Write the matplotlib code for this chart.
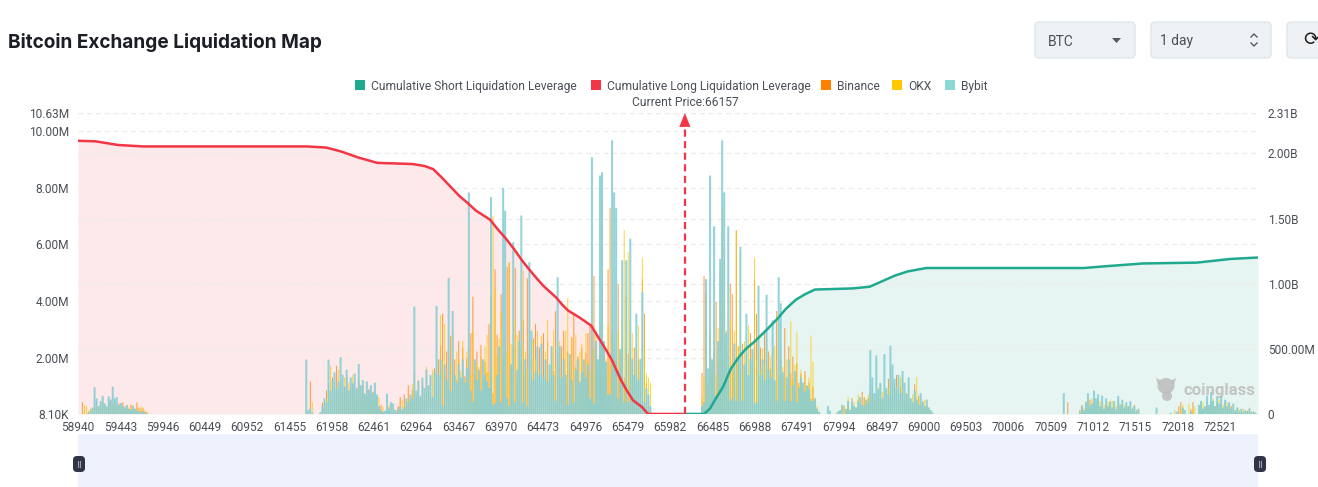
# liquidation_map.py
import numpy as np
import matplotlib
matplotlib.use('Agg')
from matplotlib import pyplot as plt
from matplotlib.patches import FancyBboxPatch, Rectangle, Ellipse, Polygon

# price labels on the category axis
tick_prices = [58940, 59443, 59946, 60449, 60952, 61455, 61958, 62461, 62964, 63467,
               63970, 64473, 64976, 65479, 65982, 66485, 66988, 67491, 67994, 68497,
               69000, 69503, 70006, 70509, 71012, 71515, 72018, 72521]
price_min = 58940
price_max = 72973
current_price = 66157

# cumulative curves, millions on the left axis
long_prices = [58940, 59148, 59421, 59718, 61667, 61893, 62071, 62273, 62499, 62915,
               63060, 63164, 63271, 63373, 63473, 63575, 63675, 63760, 63842, 63925,
               64020, 64120, 64222, 64350, 64471, 64626, 64700, 64768, 64900, 65042,
               65100, 65172, 65230, 65291, 65398, 65470, 65541, 65648, 65719, 66157]
long_values = [9.65, 9.63, 9.50, 9.45, 9.45, 9.41, 9.27, 9.06, 8.87, 8.83,
               8.76, 8.65, 8.34, 8.02, 7.71, 7.45, 7.18, 7.02, 6.86, 6.55,
               6.23, 5.85, 5.42, 4.95, 4.54, 4.12, 3.86, 3.66, 3.42, 3.13,
               2.85, 2.50, 2.22, 1.90, 1.20, 0.82, 0.49, 0.25, 0.01, 0.01]
short_prices = [66157, 66385, 66456, 66530, 66610, 66705, 66800, 66883, 66978, 67120,
                67258, 67359, 67477, 67590, 67703, 68154, 68356, 68653, 68808, 69029,
                70900, 71150, 71602, 72244, 72648, 72973]
short_values = [0.01, 0.01, 0.20, 0.58, 0.96, 1.61, 2.02, 2.31, 2.54, 2.95,
                3.37, 3.72, 4.04, 4.24, 4.40, 4.44, 4.50, 4.89, 5.04, 5.16,
                5.16, 5.22, 5.32, 5.35, 5.48, 5.53]

# bars are millions on the right axis, one price bucket every bar_step
bar_step = 24

start_a = 58993
binance_a = [90, 30, 0, 15, 40, 30, 60, 95, 50, 70,
             120, 60, 40, 90, 110, 70, 100, 60, 80, 45,
             90, 35, 60, 30, 70, 35, 40, 90, 50, 35,
             40, 25, 12]
okx_a = [20, 70, 60, 25, 35, 40, 50, 70, 45, 60,
         90, 75, 50, 100, 70, 60, 80, 50, 45, 70,
         40, 60, 30, 50, 40, 70, 30, 50, 25, 55,
         50, 20, 18]
bybit_a = [0, 0, 0, 15, 25, 50, 205, 120, 60, 100,
           140, 80, 60, 135, 110, 210, 120, 130, 70, 85,
           60, 50, 70, 40, 30, 60, 40, 30, 20, 15,
           20, 10, 5]

start_b = 61655
binance_b = [0, 0, 250, 0, 0, 0, 0, 0, 85, 40,
             180, 240, 90, 280, 130, 370, 110, 240, 160, 200,
             280, 120, 190, 230, 100, 200, 250, 140, 220, 160,
             130, 190, 90, 170, 110, 130, 50, 70, 20, 10,
             30, 50, 15, 0, 0, 20, 0]
okx_b = [30, 0, 0, 90, 0, 0, 0, 0, 40, 90,
         120, 100, 370, 240, 150, 210, 340, 160, 120, 280,
         150, 240, 100, 300, 170, 120, 290, 200, 140, 110,
         180, 100, 150, 90, 170, 80, 130, 30, 60, 0,
         0, 70, 10, 0, 30, 40, 0]
bybit_b = [418, 30, 40, 10, 0, 0, 0, 15, 60, 120,
           90, 418, 180, 260, 320, 200, 250, 436, 300, 210,
           340, 180, 280, 240, 310, 190, 385, 220, 260, 150,
           250, 180, 220, 160, 240, 150, 60, 30, 15, 25,
           155, 40, 90, 80, 30, 10, 0]

start_c = 62748
binance_c = [60, 130, 30, 150, 60, 220, 90, 180, 320, 140,
             260, 120, 230, 90, 310, 170, 280, 120, 350, 210,
             420, 520, 770, 300, 480, 180, 600, 330, 420, 260,
             560, 240, 510, 290, 430, 180, 620, 900, 310, 480,
             260, 530, 190, 400, 320, 690, 240, 160, 1110, 610,
             300, 920, 420, 220, 1130, 1165, 380, 520, 1120, 260,
             640, 380, 720, 300, 1040, 460, 240, 580, 690, 320,
             510, 280, 620, 420, 560, 240, 470, 330, 790, 400,
             280, 520, 640, 230, 480, 320, 590, 770, 360, 440,
             250, 510, 320, 470, 620, 680, 520, 1060, 420, 330,
             560, 1640, 480, 300, 1110, 1580, 620, 240, 410, 1000,
             350, 520, 280, 900, 460, 720, 300, 510, 240, 420,
             330, 1035, 770, 240, 120, 40]
okx_c = [30, 90, 110, 60, 40, 120, 70, 230, 150, 90,
         240, 130, 200, 150, 360, 220, 180, 340, 260, 420,
         300, 760, 410, 690, 260, 530, 380, 610, 220, 480,
         420, 330, 560, 270, 480, 520, 300, 640, 250, 390,
         360, 440, 280, 520, 610, 320, 900, 1520, 960, 440,
         580, 780, 330, 620, 470, 1165, 540, 300, 720, 610,
         400, 520, 1100, 480, 360, 720, 290, 560, 430, 640,
         340, 600, 260, 480, 720, 310, 520, 640, 380, 470,
         560, 300, 460, 640, 890, 420, 580, 350, 610, 300,
         480, 540, 280, 620, 410, 330, 760, 500, 640, 360,
         700, 950, 530, 420, 680, 380, 820, 560, 300, 640,
         480, 720, 1410, 560, 1240, 430, 620, 350, 520, 680,
         400, 1200, 520, 310, 280, 240]
bybit_c = [40, 60, 35, 50, 120, 90, 150, 120, 825, 180,
           250, 140, 280, 200, 340, 220, 300, 130, 320, 830,
           300, 420, 60, 380, 260, 1045, 180, 790, 300, 240,
           380, 280, 420, 240, 350, 1700, 180, 90, 420, 260,
           340, 180, 420, 300, 250, 200, 1665, 70, 80, 300,
           520, 90, 1735, 1560, 120, 60, 380, 1318, 90, 340,
           560, 1523, 90, 420, 60, 1165, 640, 260, 320, 520,
           300, 540, 280, 420, 250, 380, 520, 300, 100, 1050,
           520, 280, 420, 300, 70, 460, 260, 90, 340, 420,
           240, 320, 420, 280, 380, 120, 1970, 80, 560, 420,
           1830, 1855, 560, 400, 150, 150, 2100, 1700, 1580, 120,
           500, 1180, 90, 1180, 90, 1345, 420, 300, 770, 260,
           420, 935, 90, 200, 150, 60]

start_d = 66361
binance_d = [315, 1060, 930, 220, 640, 320, 480, 860, 400, 1110,
             1580, 420, 640, 300, 1000, 920, 310, 1410, 520, 380,
             540, 300, 460, 240, 620, 380, 1035, 770, 280, 510,
             340, 620, 260, 480, 350, 580, 240, 790, 300, 420,
             280, 660, 220, 520, 310, 440, 180, 390, 240, 310,
             200, 330, 150, 240, 120, 210, 100, 40, 15, 0]
okx_d = [120, 280, 640, 180, 520, 380, 720, 300, 660, 540,
         820, 1280, 560, 460, 720, 380, 640, 1410, 520, 1240,
         320, 560, 400, 680, 300, 480, 1200, 420, 600, 330,
         500, 380, 560, 270, 440, 340, 520, 300, 460, 240,
         360, 280, 420, 310, 710, 260, 380, 625, 220, 340,
         190, 300, 160, 280, 600, 400, 120, 60, 20, 0]
bybit_d = [60, 90, 1035, 350, 1830, 420, 1440, 110, 560, 1190,
           2100, 1700, 620, 1440, 100, 120, 540, 100, 420, 1285,
           100, 380, 770, 300, 420, 500, 80, 90, 985, 300,
           420, 260, 915, 340, 280, 720, 260, 100, 1050, 850,
           320, 100, 280, 420, 100, 220, 330, 90, 200, 280,
           240, 170, 220, 190, 100, 100, 120, 40, 15, 0]

start_e = 67834
binance_e = [0, 0, 0, 0, 0, 0, 0, 30, 0, 60,
             25, 70, 0, 120, 20, 40, 110, 60, 170, 130,
             60, 120, 170, 200, 90, 160, 120, 230, 100, 140,
             180, 270, 360, 150, 240, 300, 120, 210, 270, 100,
             160, 90, 120, 60, 230, 90, 140, 60, 100, 50,
             70, 30, 15, 5]
okx_e = [0, 0, 20, 0, 0, 10, 0, 0, 40, 70,
         0, 130, 40, 50, 90, 30, 150, 80, 60, 120,
         90, 150, 110, 60, 130, 70, 200, 90, 170, 110,
         140, 200, 160, 190, 100, 210, 150, 280, 130, 180,
         100, 220, 70, 150, 90, 280, 120, 80, 60, 110,
         40, 50, 20, 10]
bybit_e = [0, 60, 25, 0, 0, 0, 20, 30, 70, 0,
           40, 100, 30, 90, 60, 50, 90, 130, 70, 60,
           110, 90, 490, 280, 160, 450, 190, 240, 120, 460,
           200, 150, 525, 380, 270, 200, 300, 160, 330, 240,
           150, 280, 120, 90, 180, 110, 70, 160, 90, 60,
           110, 50, 30, 10]

start_f = 70663
binance_f = [0, 0, 90, 0, 0, 0, 0, 0, 30, 70,
             15, 50, 40, 110, 30, 90, 60, 110, 40, 60,
             25, 80, 40, 100, 30, 60, 20, 110, 30, 70,
             25, 60, 40, 80, 30, 70, 30, 20, 0, 0,
             0, 0, 0, 0, 0, 0, 0, 0, 0, 0,
             0, 0, 0, 0, 0, 0, 0, 60, 90, 20,
             0, 0, 0, 40, 90, 0, 0, 30, 70, 40,
             30, 80, 50, 100, 40, 60, 90, 40, 80, 30,
             100, 40, 70, 60, 30, 20, 40, 15, 25, 10,
             10, 25, 10, 15, 5, 3]
okx_f = [0, 0, 0, 0, 0, 0, 0, 0, 15, 40,
         50, 100, 30, 70, 120, 50, 90, 60, 100, 40,
         70, 40, 90, 60, 100, 30, 60, 40, 80, 50,
         70, 30, 60, 40, 50, 20, 30, 15, 0, 0,
         0, 0, 0, 0, 0, 0, 0, 0, 0, 0,
         0, 0, 0, 0, 0, 30, 0, 0, 40, 70,
         0, 0, 80, 0, 30, 60, 0, 60, 30, 90,
         50, 100, 40, 60, 120, 40, 70, 110, 40, 70,
         40, 90, 60, 30, 70, 20, 50, 35, 15, 40,
         30, 10, 50, 20, 8, 12]
bybit_f = [160, 0, 0, 0, 0, 0, 0, 0, 10, 60,
           30, 90, 160, 60, 80, 180, 120, 150, 60, 140,
           40, 120, 60, 90, 50, 100, 35, 140, 70, 110,
           50, 90, 60, 100, 40, 60, 20, 40, 0, 0,
           0, 0, 0, 0, 0, 0, 50, 0, 0, 0,
           0, 0, 0, 10, 0, 0, 20, 0, 0, 50,
           30, 0, 0, 20, 0, 0, 0, 70, 100, 40,
           60, 140, 70, 170, 100, 60, 130, 80, 140, 50,
           110, 60, 90, 40, 80, 30, 50, 20, 40, 15,
           30, 15, 40, 10, 20, 8]

clusters = [
    (start_a, binance_a, okx_a, bybit_a),
    (start_b, binance_b, okx_b, bybit_b),
    (start_c, binance_c, okx_c, bybit_c),
    (start_d, binance_d, okx_d, bybit_d),
    (start_e, binance_e, okx_e, bybit_e),
    (start_f, binance_f, okx_f, bybit_f),
]

left_ticks = [0.0081, 2, 4, 6, 8, 10, 10.63]
left_labels = ['8.10K', '2.00M', '4.00M', '6.00M', '8.00M', '10.00M', '10.63M']
right_ticks = [0, 500, 1000, 1500, 2000, 2310]
right_labels = ['0', '500.00M', '1.00B', '1.50B', '2.00B', '2.31B']

RED = '#f23645'
GREEN = '#1fa98f'
ORANGE = '#ff8000'
YELLOW = '#ffc800'
TEAL = '#88cfd4'
TEXT = '#4a4f57'
W, H = 1318, 487

plt.rcParams['font.family'] = ['Roboto', 'DejaVu Sans']
fig = plt.figure(figsize=(W / 100, H / 100), dpi=100)

# pixel box of the plot area
x0, x1, y_top, y_bot = 78, 1258, 113, 414
rect = [x0 / W, 1 - y_bot / H, (x1 - x0) / W, (y_bot - y_top) / H]

ax = fig.add_axes(rect)
ax.set_xlim(price_min, price_max)
ax.set_ylim(left_ticks[0], left_ticks[-1])
ax.fill_between(long_prices, long_values, left_ticks[0], color='#fde8ea', lw=0)
ax.fill_between(short_prices, short_values, left_ticks[0], color='#e6f5f1', lw=0)
ax.set_yticks(left_ticks)
ax.set_yticklabels(left_labels)
ax.grid(axis='y', color='#ececec', ls=(0, (4, 3)), lw=0.9)
ax.set_xticks(tick_prices)
ax.set_xticklabels([str(p) for p in tick_prices])
ax.tick_params(axis='both', length=0, labelsize=8.6, labelcolor=TEXT, pad=5)
ax.tick_params(axis='y', pad=6.5)
ax.set_axisbelow(True)

bars = ax.twinx()
bars.set_xlim(price_min, price_max)
bars.set_ylim(0, right_ticks[-1])
bars.set_yticks(right_ticks)
bars.set_yticklabels(right_labels)
bars.grid(axis='y', color='#ececec', ls=(0, (4, 3)), lw=0.9)
bars.set_axisbelow(True)
bars.tick_params(axis='y', length=0, labelsize=8.6, labelcolor=TEXT, pad=7)

for start, binance, okx, bybit in clusters:
    prices = start + bar_step * np.arange(len(bybit))
    for vals, col, al, wd in [(binance, ORANGE, 0.75, 0.5), (okx, YELLOW, 0.75, 0.5),
                              (bybit, TEAL, 0.9, 1.0)]:
        cont = bars.bar(prices, vals, width=bar_step * wd, color=col, alpha=al, lw=0)
        for p in cont:
            p.set_snap(False)

lines = ax.twinx()
lines.set_xlim(price_min, price_max)
lines.set_ylim(left_ticks[0], left_ticks[-1])
lines.axis('off')
lines.plot(long_prices, long_values, color=RED, lw=1.8, solid_joinstyle='round')
lines.plot(short_prices, short_values, color=GREEN, lw=1.8, solid_joinstyle='round')
lines.plot([current_price, current_price], [left_ticks[0], 10.1], color=RED, lw=1.6,
           ls=(0, (3.2, 2)))
lines.annotate('', xy=(current_price, 10.63), xytext=(current_price, 10.0),
               arrowprops=dict(arrowstyle='-|>,head_width=0.4,head_length=1.0',
                               color=RED, lw=0, shrinkA=0, shrinkB=0))

for a in (ax, bars, lines):
    for s in a.spines.values():
        s.set_visible(False)
    a.patch.set_alpha(0)

# everything around the plot, in pixels
ui = fig.add_axes([0, 0, 1, 1], zorder=10)
ui.set_xlim(0, W)
ui.set_ylim(H, 0)
ui.axis('off')
ui.patch.set_alpha(0)

ui.text(8, 40, 'Bitcoin Exchange Liquidation Map', fontsize=13.7, fontweight='bold',
        family=['Inter', 'DejaVu Sans'], color='#1b1e24', va='center_baseline')

legend_items = [(355, 'Cumulative Short Liquidation Leverage', GREEN),
                (591, 'Cumulative Long Liquidation Leverage', RED),
                (821, 'Binance', ORANGE), (892, 'OKX', YELLOW), (945, 'Bybit', '#8dd7d7')]
for lx, name, col in legend_items:
    ui.add_patch(Rectangle((lx, 80), 10, 10, color=col, lw=0))
    ui.text(lx + 16, 85, name, fontsize=8.65, color=TEXT, va='center_baseline')
ui.text(685, 101, 'Current Price:66157', fontsize=8.65, color=TEXT, va='center_baseline', ha='center')

# selectors
for bx, bw in [(1035, 100), (1151, 120), (1287, 60)]:
    ui.add_patch(FancyBboxPatch((bx, 22), bw, 36, boxstyle='round,pad=0,rounding_size=4',
                                fc='#eff2f5', ec='#e2e5e9', lw=1))
ui.text(1048, 40, 'BTC', fontsize=10, color=TEXT, va='center_baseline')
ui.add_patch(Polygon([(1112, 38), (1121, 38), (1116.5, 43)], color='#555a62', lw=0))
ui.text(1160, 40, '1 day', fontsize=10, color=TEXT, va='center_baseline')
ui.plot([1251, 1254, 1257], [37, 34, 37], color='#555a62', lw=1)
ui.plot([1251, 1254, 1257], [43, 46, 43], color='#555a62', lw=1)
ui.text(1311, 40, '\u27f3', fontsize=14, color='#222', va='center', ha='center',
        family='DejaVu Sans')

# data zoom strip
ui.add_patch(Rectangle((78, 434), 1180, 53, color='#eef2fd', lw=0))
for hx in (79, 1260):
    ui.add_patch(FancyBboxPatch((hx - 6, 456), 12, 16, boxstyle='round,pad=0,rounding_size=4',
                                fc='#2f3447', ec='none'))
    ui.plot([hx - 1.2, hx - 1.2], [461, 467], color='#9aa0ae', lw=0.8)
    ui.plot([hx + 1.2, hx + 1.2], [461, 467], color='#9aa0ae', lw=0.8)

# watermark
ui.add_patch(Ellipse((1166, 386), 17, 16, color='#bdbdbd', alpha=0.85, lw=0))
ui.add_patch(Ellipse((1167, 396), 10, 10, color='#bdbdbd', alpha=0.85, lw=0))
ui.add_patch(Polygon([(1156, 378), (1162, 381), (1158, 385)], color='#bdbdbd', alpha=0.85, lw=0))
ui.add_patch(Polygon([(1176, 378), (1170, 381), (1174, 385)], color='#bdbdbd', alpha=0.85, lw=0))
ui.text(1183, 389, 'coinglass', fontsize=12, fontweight='bold', color='#bdbdbd', alpha=0.85,
        va='center_baseline')

fig.savefig('out.png', dpi=100)
